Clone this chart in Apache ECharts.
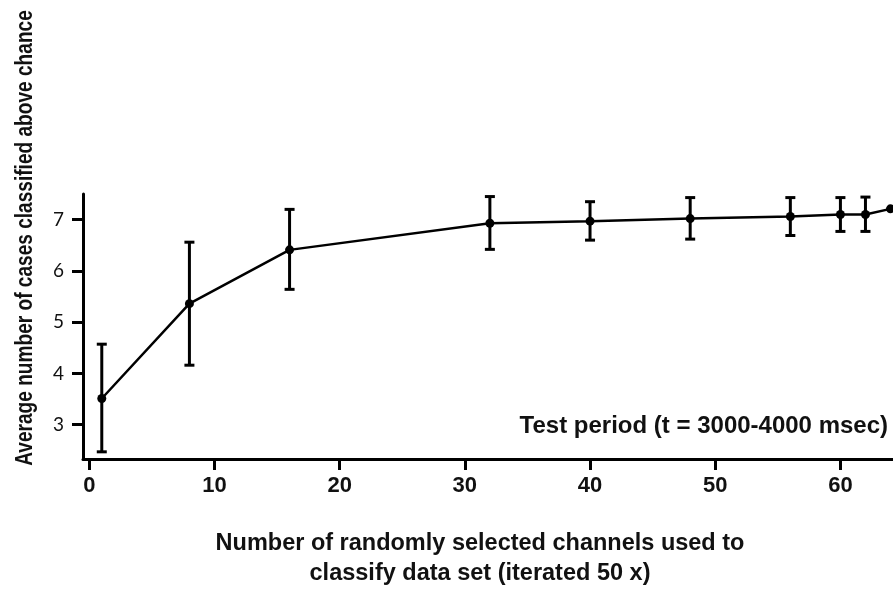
<!DOCTYPE html>
<html>
<head>
<meta charset="utf-8">
<script src="https://cdn.jsdelivr.net/npm/echarts@6/dist/echarts.min.js"></script>
<style>html,body{margin:0;padding:0;background:#fff}#c{width:893px;height:589px}</style>
</head>
<body>
<div id="c"></div>
<script>
var channels = [1, 8, 16, 32, 40, 48, 56, 60, 62, 64];
var meanValues = [3.51, 5.36, 6.41, 6.93, 6.97, 7.02, 7.06, 7.10, 7.10, 7.21];
var errLow = [2.47, 4.16, 5.64, 6.42, 6.60, 6.62, 6.69, 6.77, 6.77, null];
var errHigh = [4.57, 6.56, 7.20, 7.45, 7.35, 7.43, 7.43, 7.43, 7.44, null];
var xTicks = [0, 10, 20, 30, 40, 50, 60];
var yTicks = [3, 4, 5, 6, 7];

var chart = echarts.init(document.getElementById('c'));
var lineData = channels.map(function (c, i) { return [c, meanValues[i]]; });
var errData = [];
channels.forEach(function (c, i) {
  if (errLow[i] != null) errData.push([c, errLow[i], errHigh[i]]);
});

chart.setOption({
  animation: false,
  backgroundColor: '#fff',
  grid: { left: 83, right: 0, top: 194, bottom: 130, containLabel: false },
  xAxis: {
    type: 'value', min: -0.5, max: 64.2,
    splitLine: { show: false },
    axisLine: { onZero: false, lineStyle: { color: '#000', width: 3 } },
    axisTick: { customValues: xTicks, length: 11, lineStyle: { color: '#000', width: 3 } },
    axisLabel: { customValues: xTicks, color: '#111', fontFamily: 'Liberation Sans', fontWeight: 'bold', fontSize: 22, margin: 16 }
  },
  yAxis: {
    type: 'value', min: 2.33, max: 7.5,
    splitLine: { show: false },
    axisLine: { onZero: false, lineStyle: { color: '#000', width: 3 } },
    axisTick: { customValues: yTicks, length: 11, lineStyle: { color: '#000', width: 3 } },
    axisLabel: { customValues: yTicks, color: '#111', fontFamily: 'Lato', fontSize: 19, margin: 19 }
  },
  series: [
    {
      type: 'custom',
      data: errData,
      clip: false,
      renderItem: function (params, api) {
        var x = api.value(0);
        var lo = api.coord([x, api.value(1)]);
        var hi = api.coord([x, api.value(2)]);
        var hw = 5;
        var st = { stroke: '#000', lineWidth: 3 };
        return {
          type: 'group',
          children: [
            { type: 'line', shape: { x1: lo[0], y1: lo[1], x2: hi[0], y2: hi[1] }, style: st },
            { type: 'line', shape: { x1: lo[0] - hw, y1: lo[1], x2: lo[0] + hw, y2: lo[1] }, style: st },
            { type: 'line', shape: { x1: hi[0] - hw, y1: hi[1], x2: hi[0] + hw, y2: hi[1] }, style: st }
          ]
        };
      },
      z: 3
    },
    {
      type: 'line',
      data: lineData,
      symbol: 'circle',
      symbolSize: 9,
      clip: false,
      lineStyle: { color: '#000', width: 2.5 },
      itemStyle: { color: '#000' },
      z: 4
    }
  ],
  graphic: [
    {
      type: 'text', x: 888, y: 426,
      style: { text: 'Test period (t = 3000-4000 msec)', fill: '#111', font: 'bold 24px "Liberation Sans"', textAlign: 'right', textVerticalAlign: 'middle' }
    },
    {
      type: 'text', x: 480, y: 559,
      style: { text: 'Number of randomly selected channels used to\nclassify data set (iterated 50 x)', fill: '#111', font: 'bold 23.5px "Liberation Sans"', textAlign: 'center', textVerticalAlign: 'middle', lineHeight: 30 }
    },
    {
      type: 'text', x: 26, y: 238, rotation: Math.PI / 2, scaleX: 0.83,
      style: { text: 'Average number of cases classified above chance', fill: '#111', font: 'bold 23px "Liberation Sans"', textAlign: 'center', textVerticalAlign: 'middle' }
    }
  ]
});
</script>
</body>
</html>
